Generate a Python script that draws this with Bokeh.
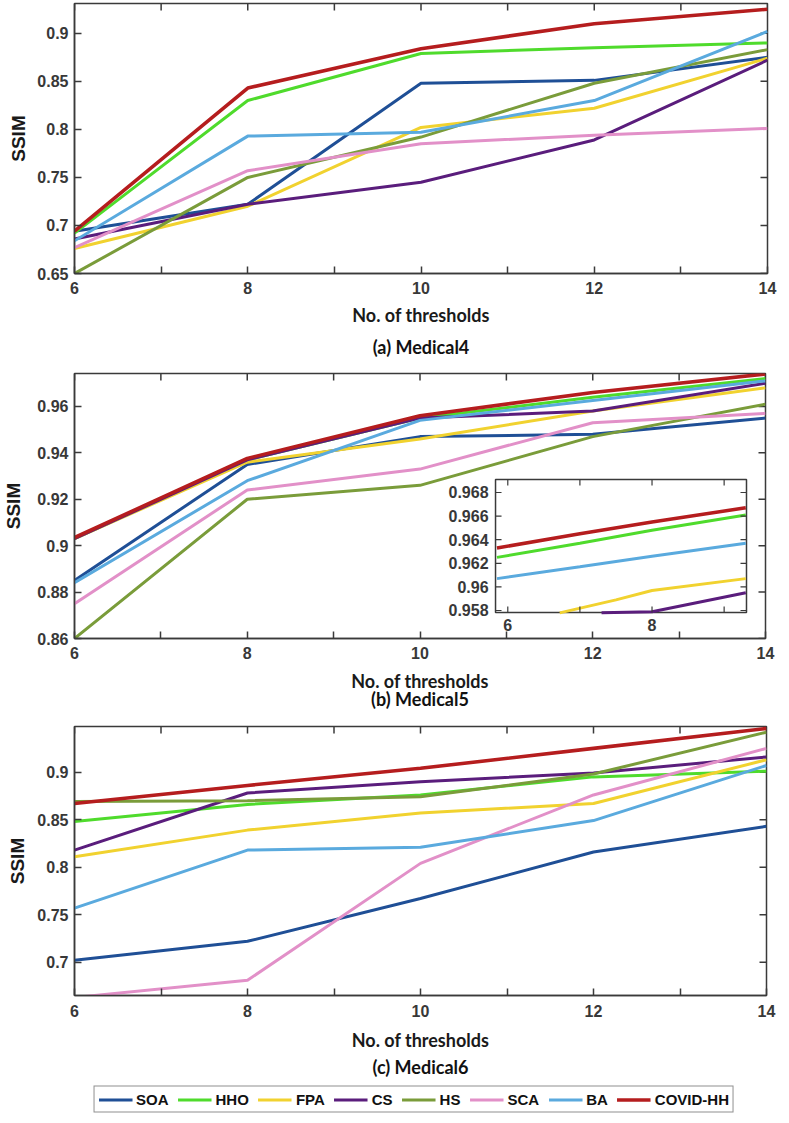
from bokeh.plotting import figure
from bokeh.models import Range1d, FixedTicker, Title, Legend, LegendItem
from bokeh.layouts import column
from bokeh.embed import file_html
from bokeh.resources import INLINE
from bokeh.core.properties import value

# ---------------- data ----------------
THRESHOLDS = [6, 8, 10, 12, 14]
X_TICKS = [6, 7, 8, 9, 10, 11, 12, 13, 14]
X_TICK_LABELS = ["6", "", "8", "", "10", "", "12", "", "14"]
SERIES = ["SOA", "HHO", "FPA", "CS", "HS", "SCA", "BA", "COVID-HH"]

# (a) Medical4
a_SOA = [0.694, 0.722, 0.848, 0.851, 0.875]
a_HHO = [0.692, 0.830, 0.879, 0.885, 0.890]
a_FPA = [0.676, 0.720, 0.802, 0.822, 0.874]
a_CS = [0.686, 0.722, 0.745, 0.789, 0.872]
a_HS = [0.650, 0.750, 0.792, 0.848, 0.883]
a_SCA = [0.677, 0.757, 0.785, 0.794, 0.801]
a_BA = [0.684, 0.793, 0.797, 0.830, 0.902]
a_COVID = [0.694, 0.843, 0.884, 0.910, 0.925]
A_YTICKS = [0.65, 0.7, 0.75, 0.8, 0.85, 0.9]

# (b) Medical5
b_SOA = [0.885, 0.935, 0.947, 0.948, 0.955]
b_HHO = [0.903, 0.937, 0.955, 0.964, 0.972]
b_FPA = [0.903, 0.936, 0.946, 0.958, 0.968]
b_CS = [0.903, 0.937, 0.955, 0.958, 0.970]
b_HS = [0.860, 0.920, 0.926, 0.947, 0.961]
b_SCA = [0.875, 0.924, 0.933, 0.953, 0.957]
b_BA = [0.884, 0.928, 0.954, 0.9626, 0.971]
b_COVID = [0.9035, 0.9376, 0.956, 0.966, 0.974]
B_YTICKS = [0.86, 0.88, 0.9, 0.92, 0.94, 0.96]

# (b) inset
INSET_X = [5.85, 7.0, 8.0, 9.3]
inset_COVID = [0.9633, 0.9645, 0.9655, 0.9667]
inset_HHO = [0.9625, 0.9637, 0.9648, 0.9661]
inset_BA = [0.9607, 0.9617, 0.9626, 0.9637]
INSET_FPA_X = [6.72, 7.5, 8.0, 9.3]
inset_FPA = [0.9578, 0.9589, 0.9597, 0.9607]
INSET_CS_X = [7.3, 8.0, 9.3]
inset_CS = [0.9578, 0.9579, 0.9595]
INSET_XTICKS = [6, 7, 8, 9]
INSET_XTICK_LABELS = ["6", "", "8", ""]
INSET_YTICKS = [0.958, 0.960, 0.962, 0.964, 0.966, 0.968]

# (c) Medical6
c_SOA = [0.702, 0.722, 0.767, 0.816, 0.843]
c_HHO = [0.848, 0.866, 0.876, 0.895, 0.901]
c_FPA = [0.811, 0.839, 0.857, 0.867, 0.913]
c_CS = [0.818, 0.878, 0.890, 0.899, 0.916]
c_HS = [0.869, 0.870, 0.874, 0.898, 0.942]
c_SCA = [0.663, 0.681, 0.804, 0.876, 0.925]
c_BA = [0.757, 0.818, 0.821, 0.849, 0.907]
c_COVID = [0.867, 0.886, 0.904, 0.925, 0.946]
C_YTICKS = [0.7, 0.75, 0.8, 0.85, 0.9]

# ---------------- style ----------------
COLORS = ["#1f4f96", "#4fdb2c", "#f1d22f", "#5a1d7c", "#7a9c3a", "#e290c8", "#5aaade", "#b51d1e"]
WIDTHS = [3.0, 3.0, 3.0, 3.0, 3.0, 3.0, 3.0, 3.6]
AX_COLOR = "#3a3a3a"
TICK_FONT = "Liberation Sans"
LAB_FONT = "Liberation Sans"
CAP_FONT = "Lato"
TICK_SIZE = "16px"
TICK_COLOR = "#383838"
FIG_W = 773
TICK_LEN = 7


def style_axis(ax, ticks, labels):
    ax.ticker = FixedTicker(ticks=ticks)
    ax.major_label_overrides = dict(zip(ticks, labels))
    ax.major_tick_in = TICK_LEN
    ax.major_tick_out = 0
    ax.minor_tick_line_color = None
    ax.axis_line_color = AX_COLOR
    ax.axis_line_width = 1.5
    ax.major_tick_line_color = AX_COLOR
    ax.major_tick_line_width = 1.5
    ax.major_label_text_font = TICK_FONT
    ax.major_label_text_font_style = "bold"
    ax.major_label_text_font_size = TICK_SIZE
    ax.major_label_text_color = TICK_COLOR


def panel(ys, ylim, yticks, frame_left, frame_w, frame_h, top, bottom, caption,
          tick_standoff, ylab_standoff, xlab_standoff, cap_standoff):
    p = figure(frame_width=frame_w, frame_height=frame_h,
               x_range=Range1d(6, 14), y_range=Range1d(*ylim),
               min_border_left=frame_left, min_border_right=FIG_W - frame_left - frame_w,
               min_border_top=top, min_border_bottom=bottom,
               output_backend="svg", toolbar_location=None,
               x_axis_label="No. of thresholds", y_axis_label="SSIM")
    p.grid.visible = False
    p.outline_line_color = AX_COLOR
    p.outline_line_width = 1.5
    ylabels = [f"{v:g}" for v in yticks]
    xa = p.xaxis[0]
    ya = p.yaxis[0]
    style_axis(xa, X_TICKS, X_TICK_LABELS)
    style_axis(ya, yticks, ylabels)
    xa.major_label_standoff = tick_standoff
    ya.major_label_standoff = 6
    xa.axis_label_standoff = xlab_standoff
    ya.axis_label_standoff = ylab_standoff
    xa.axis_label_text_font = CAP_FONT
    xa.axis_label_text_font_style = "bold"
    xa.axis_label_text_font_size = "18px"
    xa.axis_label_text_color = "#1a1a1a"
    ya.axis_label_text_font = LAB_FONT
    ya.axis_label_text_font_style = "bold"
    ya.axis_label_text_font_size = "19px"
    ya.axis_label_text_color = "#1a1a1a"
    # inward ticks on the top and right edges of the box
    px_x = frame_w / (14 - 6)
    px_y = frame_h / (ylim[1] - ylim[0])
    nx = len(X_TICKS)
    p.segment(x0=X_TICKS, x1=X_TICKS, y0=[ylim[1]] * nx, y1=[ylim[1] - TICK_LEN / px_y] * nx,
              line_color=AX_COLOR, line_width=1.5)
    ny = len(yticks)
    p.segment(x0=[14] * ny, x1=[14 - TICK_LEN / px_x] * ny, y0=yticks, y1=yticks,
              line_color=AX_COLOR, line_width=1.5)
    rs = []
    for y, c, w in zip(ys, COLORS, WIDTHS):
        rs.append(p.line(THRESHOLDS, y, line_color=c, line_width=w))
    p.add_layout(Title(text=caption, align="center", text_font=CAP_FONT,
                       text_font_style="bold", text_font_size="18px",
                       text_color="#111111", standoff=cap_standoff), "below")
    return p, rs


C_SERIES = [c_SOA, c_HHO, c_FPA, c_CS, c_HS, c_SCA, c_BA, c_COVID]

# (a)
pa, _ = panel([a_SOA, a_HHO, a_FPA, a_CS, a_HS, a_SCA, a_BA, a_COVID],
              (0.65, 0.931), A_YTICKS, 65, 693, 270, 3, 95, "(a) Medical4",
              8, 5, 7, 10)

# (b)
pb, _ = panel([b_SOA, b_HHO, b_FPA, b_CS, b_HS, b_SCA, b_BA, b_COVID],
              (0.86, 0.9742), B_YTICKS, 69, 691, 265, 5, 82, "(b) Medical5",
              8, 10, 8, -18)

# inset inside (b)
INSET_XLIM = (5.83, 9.31)
INSET_YLIM = (0.95783, 0.9691)
INSET_FRAC = (0.6093, 0.9725, 0.0981, 0.600)  # left, right, bottom, top of main frame
ix_span = (INSET_XLIM[1] - INSET_XLIM[0]) / (INSET_FRAC[1] - INSET_FRAC[0])
ix0 = INSET_XLIM[0] - INSET_FRAC[0] * ix_span
iy_span = (INSET_YLIM[1] - INSET_YLIM[0]) / (INSET_FRAC[3] - INSET_FRAC[2])
iy0 = INSET_YLIM[0] - INSET_FRAC[2] * iy_span
pb.extra_x_ranges = {"ix": Range1d(ix0, ix0 + ix_span)}
pb.extra_y_ranges = {"iy": Range1d(iy0, iy0 + iy_span)}
ipx_x = 691 / ix_span
ipx_y = 265 / iy_span
kw = dict(x_range_name="ix", y_range_name="iy")
pb.quad(left=[INSET_XLIM[0]], right=[INSET_XLIM[1]], bottom=[INSET_YLIM[0]], top=[INSET_YLIM[1]],
        fill_color="white", line_color=AX_COLOR, line_width=1.5, **kw)
inset_series = [(INSET_CS_X, inset_CS, 3), (INSET_FPA_X, inset_FPA, 2), (INSET_X, inset_BA, 6),
                (INSET_X, inset_HHO, 1), (INSET_X, inset_COVID, 7)]
for xs, ys, ci in inset_series:
    pb.line(xs, ys, line_color=COLORS[ci], line_width=WIDTHS[ci], **kw)
tl = 6
nix = len(INSET_XTICKS)
pb.segment(x0=INSET_XTICKS, x1=INSET_XTICKS, y0=[INSET_YLIM[0]] * nix,
           y1=[INSET_YLIM[0] + tl / ipx_y] * nix, line_color=AX_COLOR, line_width=1.2, **kw)
pb.segment(x0=INSET_XTICKS, x1=INSET_XTICKS, y0=[INSET_YLIM[1]] * nix,
           y1=[INSET_YLIM[1] - tl / ipx_y] * nix, line_color=AX_COLOR, line_width=1.2, **kw)
niy = len(INSET_YTICKS)
pb.segment(x0=[INSET_XLIM[0]] * niy, x1=[INSET_XLIM[0] + tl / ipx_x] * niy, y0=INSET_YTICKS,
           y1=INSET_YTICKS, line_color=AX_COLOR, line_width=1.2, **kw)
pb.segment(x0=[INSET_XLIM[1]] * niy, x1=[INSET_XLIM[1] - tl / ipx_x] * niy, y0=INSET_YTICKS,
           y1=INSET_YTICKS, line_color=AX_COLOR, line_width=1.2, **kw)
lab_idx = [i for i, t in enumerate(INSET_XTICK_LABELS) if t]
pb.text(x=[INSET_XTICKS[i] for i in lab_idx], y=[INSET_YLIM[0]] * len(lab_idx),
        text=[INSET_XTICK_LABELS[i] for i in lab_idx],
        text_font=value(TICK_FONT), text_font_style="bold", text_font_size=TICK_SIZE,
        text_color=TICK_COLOR, text_align="center", text_baseline="top", y_offset=6, **kw)
pb.text(x=[INSET_XLIM[0]] * niy, y=INSET_YTICKS, text=[f"{v:g}" for v in INSET_YTICKS],
        text_font=value(TICK_FONT), text_font_style="bold", text_font_size=TICK_SIZE,
        text_color=TICK_COLOR, text_align="right", text_baseline="middle", x_offset=-7, **kw)

# (c)
pc, rc = panel(C_SERIES, (0.665, 0.948), C_YTICKS, 61, 692, 269, 6, 88, "(c) Medical6",
               9, 6, 9, 0)

# legend strip (its series lie outside this strip's ranges, so only the legend shows)
pl = figure(width=FIG_W, height=32, x_range=Range1d(0, 1), y_range=Range1d(0, 1),
            x_axis_type=None, y_axis_type=None, outline_line_color=None,
            min_border_left=36, min_border_right=0, min_border_top=0, min_border_bottom=0,
            output_backend="svg", toolbar_location=None)
pl.grid.visible = False
leg_r = [pl.line(THRESHOLDS, y, line_color=c, line_width=w)
         for y, c, w in zip(C_SERIES, COLORS, WIDTHS)]
legend = Legend(items=[LegendItem(label=s, renderers=[r]) for s, r in zip(SERIES, leg_r)],
                orientation="horizontal", location="center",
                border_line_color="#222222", border_line_width=1.5,
                padding=4, spacing=9, label_standoff=4, glyph_width=34, glyph_height=16,
                margin=0, label_text_font=LAB_FONT, label_text_font_style="bold",
                label_text_font_size="15px", label_text_color="#111111",
                background_fill_color="white")
pl.add_layout(legend, "center")

layout = column(pa, pb, pc, pl, spacing=0)
open("out.html", "w").write(file_html(layout, INLINE))
